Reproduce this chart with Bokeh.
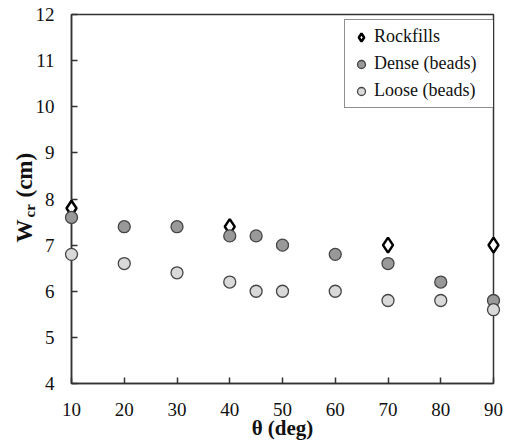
import math
from bokeh.plotting import figure
from bokeh.models import Range1d, Legend, LegendItem, FixedTicker
from bokeh.core.properties import value
from bokeh.embed import file_html
from bokeh.resources import INLINE

# ---- data ----
rock_theta = [10, 40, 70, 90]
rock_w = [7.8, 7.4, 7.0, 7.0]

dense_theta = [10, 20, 30, 40, 45, 50, 60, 70, 80, 90]
dense_w = [7.6, 7.4, 7.4, 7.2, 7.2, 7.0, 6.8, 6.6, 6.2, 5.8]

loose_theta = [10, 20, 30, 40, 45, 50, 60, 70, 80, 90]
loose_w = [6.8, 6.6, 6.4, 6.2, 6.0, 6.0, 6.0, 5.8, 5.8, 5.6]

x_ticks = [10, 20, 30, 40, 50, 60, 70, 80, 90]
y_ticks = [4, 5, 6, 7, 8, 9, 10, 11, 12]

FONT = "Liberation Serif"
AX = "#333333"
TXT = "#111111"

p = figure(width=505, height=445, output_backend="svg", toolbar_location=None,
           x_range=Range1d(10, 90), y_range=Range1d(4, 12),
           min_border_left=71, min_border_right=12, min_border_top=14, min_border_bottom=62)
p.grid.visible = False
p.outline_line_color = AX
p.outline_line_width = 1.5
p.background_fill_color = "white"
p.border_fill_color = "white"

for ax in (p.xaxis[0], p.yaxis[0]):
    ax.axis_line_color = AX
    ax.axis_line_width = 1.5
    ax.major_tick_line_color = AX
    ax.major_tick_line_width = 1.5
    ax.major_tick_in = 6
    ax.major_tick_out = 0
    ax.minor_tick_line_color = None
    ax.major_label_text_font = FONT
    ax.major_label_text_font_size = "19px"
    ax.major_label_text_color = TXT

p.xaxis.ticker = FixedTicker(ticks=x_ticks)
p.yaxis.ticker = FixedTicker(ticks=y_ticks)
p.xaxis.major_label_standoff = 19
p.yaxis.major_label_standoff = 17

p.xaxis.axis_label = "θ (deg)"
p.xaxis.axis_label_text_font = FONT
p.xaxis.axis_label_text_font_size = "21px"
p.xaxis.axis_label_text_font_style = "bold"
p.xaxis.axis_label_text_color = TXT
p.xaxis.axis_label_standoff = -3

# draw order as in the reference: rockfills below, loose beads on top
r_rock = p.scatter(rock_theta, rock_w, marker="diamond", size=15, level="overlay",
                   fill_color="white", line_color="#000000", line_width=2.5)
r_dense = p.scatter(dense_theta, dense_w, marker="circle", size=12, level="overlay",
                    fill_color="#999999", line_color="#454545", line_width=1.3)
r_loose = p.scatter(loose_theta, loose_w, marker="circle", size=12, level="overlay",
                    fill_color="#d9d9d9", line_color="#454545", line_width=1.3)

legend = Legend(items=[
    LegendItem(label="Rockfills", renderers=[r_rock]),
    LegendItem(label="Dense (beads)", renderers=[r_dense]),
    LegendItem(label="Loose (beads)", renderers=[r_loose]),
], location=(273, 275), margin=0, padding=6, spacing=6,
   glyph_width=20, glyph_height=20, label_height=20, label_standoff=3, label_width=114,
   label_text_font=FONT, label_text_font_size="18px", label_text_color=TXT,
   border_line_color="#222222", border_line_width=1, background_fill_alpha=1)
p.add_layout(legend)

# y-axis title "W_cr (cm)" drawn as rotated text anchored at the frame's
# bottom-left corner and shifted (in pixels) into the left border
ylab_common = dict(angle=math.pi / 2, text_font=value(FONT), text_font_style="bold",
                   text_color=TXT, text_baseline="middle", text_align="left",
                   level="overlay")
x0 = [x_ticks[0]]
y0 = [y_ticks[0]]
p.text(x=x0, y=y0, text=["W"], x_offset=-47, y_offset=-141,
       text_font_size="23px", **ylab_common)
p.text(x=x0, y=y0, text=["cr"], x_offset=-42, y_offset=-166,
       text_font_size="15px", **ylab_common)
p.text(x=x0, y=y0, text=["(cm)"], x_offset=-47, y_offset=-186,
       text_font_size="23px", **ylab_common)

open("out.html", "w").write(file_html(p, INLINE))
